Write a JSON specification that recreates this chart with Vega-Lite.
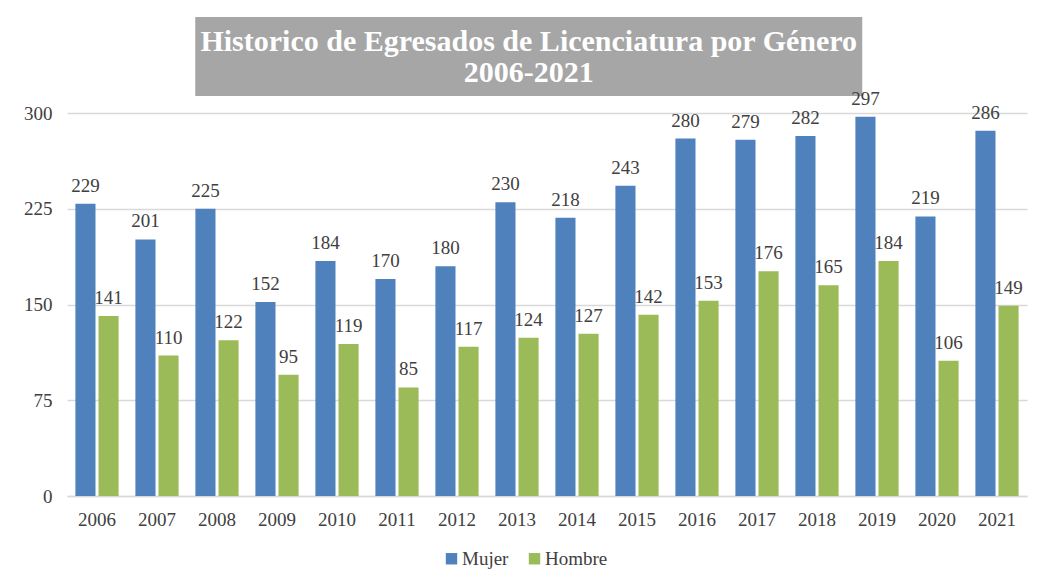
{
  "$schema": "https://vega.github.io/schema/vega-lite/v6.json",
  "background": "white",
  "padding": {"top": 17, "left": 23, "right": 5, "bottom": 5},
  "spacing": -7,
  "center": true,
  "config": {
    "view": {"stroke": null},
    "font": "Liberation Serif",
    "legend": {"layout": {"bottom": {"anchor": "middle"}}}
  },
  "vconcat": [
    {
      "width": 667,
      "height": 79,
      "view": {"fill": "#A6A6A6", "stroke": null},
      "data": {"values": [{"t": "Historico de Egresados de Licenciatura por Género\n2006-2021"}]},
      "mark": {"type": "text", "lineBreak": "\n", "lineHeight": 31, "fontSize": 30, "fontWeight": "bold", "font": "Liberation Serif", "color": "white", "dy": -15, "baseline": "middle"},
      "encoding": {
        "y": {"field": "t", "type": "nominal", "title": null, "axis": {"orient": "right", "labels": false, "domain": false, "ticks": true, "tickSize": 36, "tickColor": "transparent", "grid": false}},
        "text": {"field": "t"}
      }
    },
    {
      "width": 960,
      "height": 383,
      "data": {"values": [
        {"year": "2006", "gender": "Mujer", "value": 229}, {"year": "2006", "gender": "Hombre", "value": 141},
        {"year": "2007", "gender": "Mujer", "value": 201}, {"year": "2007", "gender": "Hombre", "value": 110},
        {"year": "2008", "gender": "Mujer", "value": 225}, {"year": "2008", "gender": "Hombre", "value": 122},
        {"year": "2009", "gender": "Mujer", "value": 152}, {"year": "2009", "gender": "Hombre", "value": 95},
        {"year": "2010", "gender": "Mujer", "value": 184}, {"year": "2010", "gender": "Hombre", "value": 119},
        {"year": "2011", "gender": "Mujer", "value": 170}, {"year": "2011", "gender": "Hombre", "value": 85},
        {"year": "2012", "gender": "Mujer", "value": 180}, {"year": "2012", "gender": "Hombre", "value": 117},
        {"year": "2013", "gender": "Mujer", "value": 230}, {"year": "2013", "gender": "Hombre", "value": 124},
        {"year": "2014", "gender": "Mujer", "value": 218}, {"year": "2014", "gender": "Hombre", "value": 127},
        {"year": "2015", "gender": "Mujer", "value": 243}, {"year": "2015", "gender": "Hombre", "value": 142},
        {"year": "2016", "gender": "Mujer", "value": 280}, {"year": "2016", "gender": "Hombre", "value": 153},
        {"year": "2017", "gender": "Mujer", "value": 279}, {"year": "2017", "gender": "Hombre", "value": 176},
        {"year": "2018", "gender": "Mujer", "value": 282}, {"year": "2018", "gender": "Hombre", "value": 165},
        {"year": "2019", "gender": "Mujer", "value": 297}, {"year": "2019", "gender": "Hombre", "value": 184},
        {"year": "2020", "gender": "Mujer", "value": 219}, {"year": "2020", "gender": "Hombre", "value": 106},
        {"year": "2021", "gender": "Mujer", "value": 286}, {"year": "2021", "gender": "Hombre", "value": 149}
      ]},
      "encoding": {
        "x": {
          "field": "year", "type": "nominal", "title": null,
          "scale": {"paddingInner": 0.28, "paddingOuter": 0.14},
          "axis": {"labelAngle": 0, "labelFontSize": 19, "labelFont": "Liberation Serif", "labelColor": "#404040", "labelPadding": 14, "ticks": false, "domain": true, "domainColor": "#D9D9D9", "domainWidth": 1.5, "grid": false}
        },
        "xOffset": {"field": "gender", "type": "nominal", "sort": ["Mujer", "Hombre"], "scale": {"paddingInner": 0.13, "paddingOuter": 0}},
        "y": {
          "field": "value", "type": "quantitative", "title": null,
          "scale": {"domain": [0, 300], "nice": false},
          "axis": {"values": [0, 75, 150, 225, 300], "labelFontSize": 19, "labelFont": "Liberation Serif", "labelColor": "#404040", "labelPadding": 15, "ticks": false, "tickSize": 0, "domain": false, "grid": true, "gridColor": "#D9D9D9", "gridWidth": 1.5}
        }
      },
      "layer": [
        {
          "mark": {"type": "bar"},
          "encoding": {
            "color": {
              "field": "gender", "type": "nominal",
              "scale": {"domain": ["Mujer", "Hombre"], "range": ["#4F81BD", "#9BBB59"]},
              "legend": {"orient": "bottom", "direction": "horizontal", "title": null, "symbolType": "square", "symbolSize": 130, "symbolStrokeWidth": 0, "labelFontSize": 19, "labelFont": "Liberation Serif", "labelColor": "#404040", "columnPadding": 16, "labelOffset": 1, "offset": 20}
            }
          }
        },
        {
          "mark": {"type": "text", "baseline": "alphabetic", "dy": -12, "fontSize": 19, "font": "Liberation Serif", "color": "#404040"},
          "encoding": {"text": {"field": "value", "type": "quantitative"}}
        }
      ]
    }
  ]
}
